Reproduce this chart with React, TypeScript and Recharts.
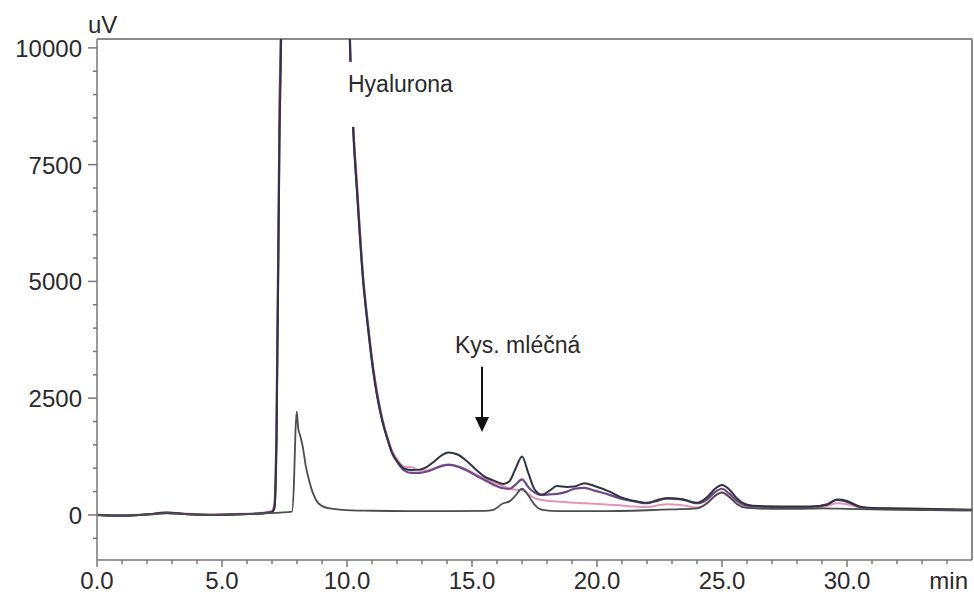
import React from 'react';
import { LineChart, Line, XAxis, YAxis, ReferenceLine, ReferenceDot } from 'recharts';

// retention time (min) and detector signal (uV)
const stdTime = [0, 1, 2, 2.8, 3.5, 4.5, 5.5, 6.5, 7.3, 7.8, 7.88, 7.94, 7.99, 8.05, 8.12, 8.23, 8.35, 8.48, 8.65, 8.84, 9.2, 9.8, 11, 12.5, 14, 15.5, 15.85, 16.25, 16.5, 16.75, 17.0, 17.25, 17.5, 17.8, 18.5, 20, 22, 23, 24, 24.4, 24.7, 25.0, 25.3, 25.6, 26.0, 27, 28, 29, 30, 31, 32, 33, 34, 35];
const stdValue = [0, -20, 10, 40, 20, 0, 10, 30, 50, 70, 700, 1800, 2210, 1850, 1710, 1460, 1050, 750, 450, 260, 150, 110, 90, 80, 80, 85, 110, 250, 290, 420, 560, 420, 220, 110, 80, 80, 100, 120, 140, 250, 400, 480, 380, 230, 150, 130, 130, 140, 130, 120, 110, 105, 100, 100];

const sampleTime = [0, 1, 2, 2.8, 3.5, 4.5, 5.5, 6.5, 7.0, 7.1, 7.18, 7.3, 7.38, 7.5, 9.9, 10.05, 10.12, 10.24, 10.4, 10.64, 10.85, 11.04, 11.2, 11.4, 11.6, 11.8, 12.05, 12.3, 12.6, 12.9, 13.2, 13.5, 13.8, 14.05, 14.4, 14.8, 15.2, 15.5, 15.85, 16.25, 16.5, 16.75, 17.0, 17.25, 17.5, 17.8, 18.1, 18.4, 18.8, 19.1, 19.5, 19.9, 20.5, 21.0, 21.5, 22.0, 22.4, 22.8, 23.4, 24.0, 24.4, 24.7, 25.0, 25.3, 25.6, 26.0, 26.5, 27.5, 28.5, 29.2, 29.6, 30.0, 30.5, 31.0, 32.0, 33.0, 34.0, 35.0];
const sample1 = [0, -20, 10, 50, 20, 0, 10, 30, 60, 150, 1500, 8000, 11000, 25000, 25000, 12000, 10000, 8310, 6900, 5030, 3950, 3100, 2550, 2030, 1650, 1330, 1120, 990, 960, 970, 1030, 1150, 1280, 1335, 1300, 1150, 950, 820, 740, 664, 720, 1000, 1250, 900, 550, 430, 520, 620, 600, 610, 680, 620, 500, 370, 300, 260, 300, 350, 330, 260, 380, 550, 640, 540, 350, 220, 190, 180, 180, 220, 330, 300, 180, 150, 140, 130, 120, 110];
const sample2 = [0, -10, 10, 40, 20, 0, 10, 30, 70, 200, 1800, 8500, 11500, 25000, 25000, 12200, 10100, 8400, 7000, 5100, 4000, 3150, 2600, 2060, 1670, 1340, 1100, 950, 900, 900, 930, 990, 1050, 1070, 1040, 950, 830, 750, 650, 571, 560, 650, 760, 600, 480, 430, 440, 450, 500, 560, 580, 520, 430, 340, 290, 250, 320, 360, 340, 250, 330, 480, 560, 450, 300, 200, 180, 170, 170, 230, 320, 280, 170, 140, 130, 120, 110, 100];
const sample3 = [0, -10, 20, 50, 30, 10, 20, 40, 80, 250, 2000, 8800, 11800, 25000, 25000, 12400, 10300, 8500, 7100, 5150, 4050, 3200, 2650, 2100, 1700, 1380, 1150, 1030, 1020, 950, 950, 1000, 1060, 1080, 1050, 970, 860, 780, 700, 620, 560, 540, 530, 450, 360, 320, 300, 290, 270, 260, 250, 240, 220, 200, 180, 170, 200, 230, 210, 160, 250, 400, 480, 380, 250, 170, 160, 150, 150, 190, 250, 230, 160, 140, 130, 120, 115, 110];

const xTicks = [0, 1, 2, 3, 4, 5, 6, 7, 8, 9, 10, 11, 12, 13, 14, 15, 16, 17, 18, 19, 20, 21, 22, 23, 24, 25, 26, 27, 28, 29, 30, 31, 32, 33, 34, 35];
const xLabels = [0, 5, 10, 15, 20, 25, 30];
const yTicks = [-500, 0, 500, 1000, 1500, 2000, 2500, 3000, 3500, 4000, 4500, 5000, 5500, 6000, 6500, 7000, 7500, 8000, 8500, 9000, 9500, 10000];
const yLabels = [0, 2500, 5000, 7500, 10000];

const X_MAX = 35;
const Y_MIN = -965;
const Y_MAX = 10190;

const FONT = '"Liberation Sans", Arial, Helvetica, sans-serif';
const TEXT = '#2a2a2a';
const AXIS = '#777';

const toPoints = (t: number[], v: number[]) => t.map((x, i) => ({ t: x, v: v[i] }));

const YTick = (props: any) => {
  const { x, y, payload } = props;
  const major = yLabels.includes(payload.value);
  return (
    <g>
      <line x1={x - (major ? 9 : 4)} x2={x} y1={y} y2={y} stroke={AXIS} strokeWidth={1.5} />
      {major && (
        <text x={x - 15} y={y + 9} textAnchor="end" fontSize={24} fill={TEXT} fontFamily={FONT}>
          {payload.value}
        </text>
      )}
    </g>
  );
};

const XTick = (props: any) => {
  const { x, y, payload } = props;
  const v = payload.value;
  if (v === X_MAX) {
    return (
      <text x={x - 4} y={y + 29} textAnchor="end" fontSize={24} fill={TEXT} fontFamily={FONT}>
        min
      </text>
    );
  }
  const major = xLabels.includes(v);
  return (
    <g>
      <line x1={x} x2={x} y1={y} y2={y + (major ? 7 : 4)} stroke={AXIS} strokeWidth={1.5} />
      {major && (
        <text x={x} y={y + 29} textAnchor="middle" fontSize={24} fill={TEXT} fontFamily={FONT}>
          {v.toFixed(1)}
        </text>
      )}
    </g>
  );
};

const HyalLabel = (p: any) => (
  <g>
    <rect x={p.cx - 8} y={p.cy - 30} width={125} height={65} fill="#fff" />
    <text x={p.cx} y={p.cy} fontSize={23} fill={TEXT} fontFamily={FONT}>Hyalurona</text>
  </g>
);

const KysLabel = (p: any) => (
  <text x={p.cx} y={p.cy} fontSize={23} fill={TEXT} fontFamily={FONT}>Kys. mléčná</text>
);

const ArrowHead = (p: any) => (
  <polygon points={`${p.cx - 7},${p.cy - 15} ${p.cx + 7},${p.cy - 15} ${p.cx},${p.cy}`} fill="#111" />
);

const UvLabel = (p: any) => {
  const vb = p.viewBox;
  return (
    <text x={vb.x + vb.width - 9} y={vb.y - 6} fontSize={24} fill={TEXT} fontFamily={FONT}>uV</text>
  );
};

export default function App() {
  return (
    <div style={{ position: 'absolute', left: 0, top: 0, background: '#fff' }}>
      <LineChart width={974} height={599} margin={{ top: 39, right: 2, bottom: 0, left: 0 }}>
        <XAxis
          dataKey="t"
          type="number"
          domain={[0, X_MAX]}
          allowDataOverflow
          ticks={xTicks}
          interval={0}
          tick={<XTick />}
          tickLine={false}
          tickSize={0}
          tickMargin={0}
          height={39}
          axisLine={{ stroke: AXIS, strokeWidth: 1.5 }}
        />
        <YAxis
          type="number"
          domain={[Y_MIN, Y_MAX]}
          allowDataOverflow
          ticks={yTicks}
          interval={0}
          tick={<YTick />}
          tickLine={false}
          tickSize={0}
          tickMargin={0}
          width={97}
          axisLine={{ stroke: AXIS, strokeWidth: 1.5 }}
          label={<UvLabel />}
        />
        <ReferenceLine y={Y_MAX} stroke="#8a8a8a" strokeWidth={2} />
        <ReferenceLine x={X_MAX} stroke="#8a8a8a" strokeWidth={2} />
        <Line data={toPoints(sampleTime, sample3)} dataKey="v" type="monotone" stroke="#e296b2" strokeWidth={2} dot={false} isAnimationActive={false} />
        <Line data={toPoints(sampleTime, sample2)} dataKey="v" type="monotone" stroke="#6c4a88" strokeWidth={2.2} dot={false} isAnimationActive={false} />
        <Line data={toPoints(sampleTime, sample1)} dataKey="v" type="monotone" stroke="#2f3444" strokeWidth={2} dot={false} isAnimationActive={false} />
        <Line data={toPoints(stdTime, stdValue)} dataKey="v" type="monotone" stroke="#4d4d4d" strokeWidth={1.8} dot={false} isAnimationActive={false} />
        <ReferenceDot x={10.04} y={9058} r={0} shape={<HyalLabel />} ifOverflow="visible" />
        <ReferenceDot x={14.32} y={3469} r={0} shape={<KysLabel />} ifOverflow="visible" />
        <ReferenceLine segment={[{ x: 15.4, y: 3170 }, { x: 15.4, y: 2050 }]} stroke="#111" strokeWidth={2} />
        <ReferenceDot x={15.4} y={1777} r={0} shape={<ArrowHead />} ifOverflow="visible" />
      </LineChart>
    </div>
  );
}
